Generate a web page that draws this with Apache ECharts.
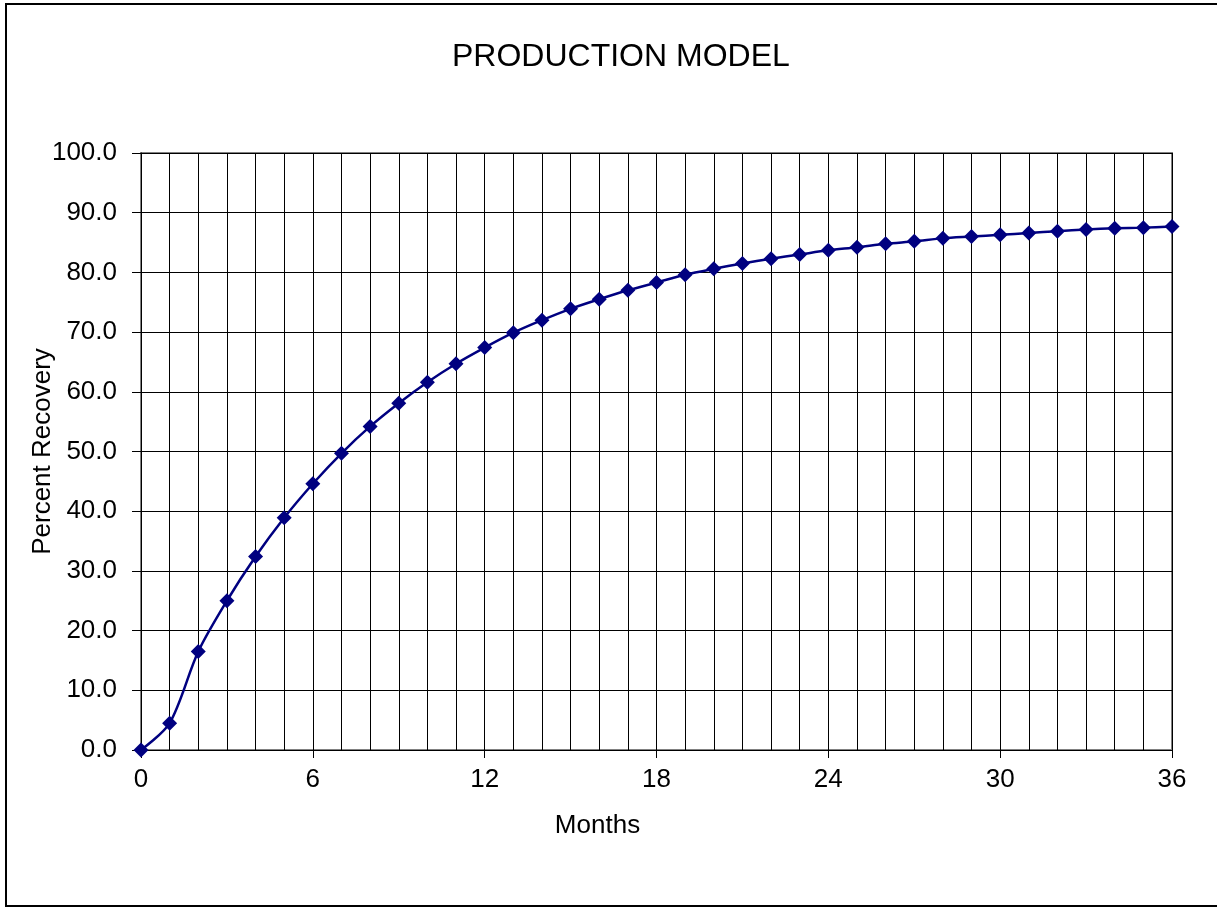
<!DOCTYPE html>
<html>
<head>
<meta charset="utf-8">
<title>Production Model</title>
<script src="https://cdn.jsdelivr.net/npm/echarts@6/dist/echarts.min.js"></script>
<style>
  html, body { margin: 0; padding: 0; background: #fff; }
  #chart { width: 1217px; height: 907px; }
</style>
</head>
<body>
<div id="chart"></div>
<script>
// months since start
var months = [0, 1, 2, 3, 4, 5, 6, 7, 8, 9, 10, 11, 12, 13, 14, 15, 16, 17, 18,
  19, 20, 21, 22, 23, 24, 25, 26, 27, 28, 29, 30, 31, 32, 33, 34, 35, 36]
// percent recovery
var recovery = [0.0, 4.5, 16.5, 25.0, 32.4, 38.9, 44.6, 49.7, 54.2, 58.1, 61.6,
  64.7, 67.4, 69.9, 72.0, 73.9, 75.5, 77.0, 78.3, 79.6, 80.6, 81.5, 82.3, 83.0,
  83.7, 84.2, 84.8, 85.2, 85.7, 86.0, 86.3, 86.6, 86.9, 87.2, 87.4, 87.5, 87.7]

var mainColor = '#000080'
var font = 'Liberation Sans, Arial, sans-serif'

var points = months.map(function(m, i) {
  return [m, recovery[i]]
})

var chart = echarts.init(document.getElementById('chart'), null, { renderer: 'canvas' })
chart.setOption({
  animation: false,
  backgroundColor: '#fff',
  title: {
    text: 'PRODUCTION MODEL',
    left: 447,
    top: 36,
    textStyle: {
      fontFamily: font,
      fontSize: 32,
      fontWeight: 'normal',
      color: '#000'
    }
  },
  graphic: [
    {
      type: 'rect',
      shape: { x: 6, y: 4, width: 1230, height: 902 },
      style: { fill: 'none', stroke: '#000', lineWidth: 2 },
      silent: true
    }
  ],
  grid: {
    left: 141,
    right: 45,
    top: 153,
    bottom: 157,
    show: true,
    borderColor: '#808080',
    borderWidth: 2,
    containLabel: false
  },
  xAxis: {
    type: 'value',
    min: 0,
    max: 36,
    interval: 6,
    name: 'Months',
    nameLocation: 'middle',
    nameGap: 63,
    nameMoveOverlap: false,
    // label sits left of the plot centre in the original
    nameTextStyle: { fontFamily: font, fontSize: 26, color: '#000', padding: [0, 118, 0, 0] },
    axisLine: { show: true, onZero: false, lineStyle: { color: '#000', width: 1 } },
    axisTick: { show: true, length: 8, lineStyle: { color: '#000' } },
    axisLabel: { fontFamily: font, fontSize: 26, color: '#000', margin: 17 },
    splitLine: { show: true, lineStyle: { color: '#000', width: 1 } },
    minorTick: { show: false, splitNumber: 6 },
    minorSplitLine: { show: true, lineStyle: { color: '#000', width: 1 } }
  },
  yAxis: {
    type: 'value',
    min: 0,
    max: 100,
    interval: 10,
    name: 'Percent Recovery',
    nameLocation: 'middle',
    nameGap: 85,
    nameMoveOverlap: false,
    nameTextStyle: { fontFamily: font, fontSize: 26, color: '#000' },
    axisLine: { show: true, lineStyle: { color: '#000', width: 1 } },
    axisTick: { show: true, length: 9, lineStyle: { color: '#000' } },
    axisLabel: {
      fontFamily: font,
      fontSize: 26,
      color: '#000',
      margin: 24,
      formatter: function(v) { return v.toFixed(1) }
    },
    splitLine: { show: true, lineStyle: { color: '#000', width: 1 } }
  },
  series: [
    {
      type: 'line',
      name: 'Percent Recovery',
      data: points,
      smooth: 0.3,
      symbol: 'diamond',
      symbolSize: 15,
      lineStyle: { color: mainColor, width: 2.5 },
      itemStyle: { color: mainColor },
      clip: false,
      z: 5
    }
  ]
})
</script>
</body>
</html>
